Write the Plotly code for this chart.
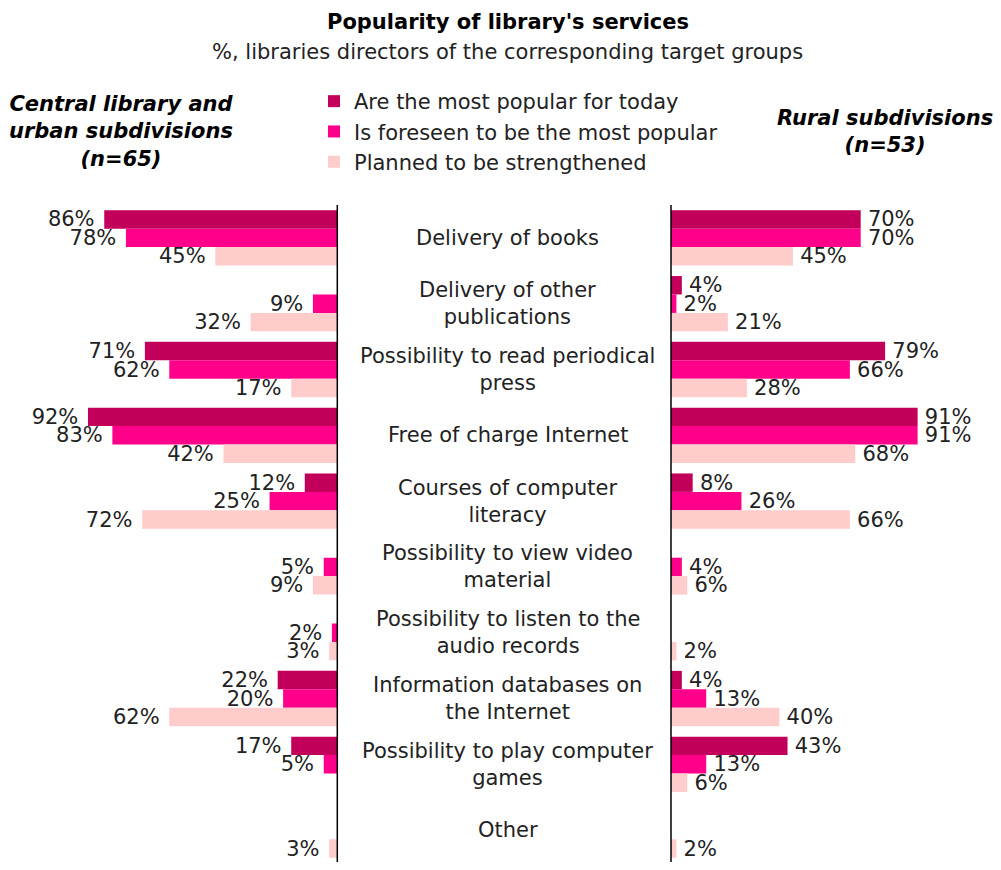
import plotly.graph_objects as go

categories = [
    "Delivery of books",
    "Delivery of other<br>publications",
    "Possibility to read periodical<br>press",
    "Free of charge Internet",
    "Courses of computer<br>literacy",
    "Possibility to view video<br>material",
    "Possibility to listen to the<br>audio records",
    "Information databases on<br>the Internet",
    "Possibility to play computer<br>games",
    "Other",
]
series_names = [
    "Are the most popular for today",
    "Is foreseen to be the most popular",
    "Planned to be strengthened",
]
colors = ["#C2005B", "#FF008A", "#FFCCCC"]

# Central library and urban subdivisions (n=65)
urban_today = [86, None, 71, 92, 12, None, None, 22, 17, None]
urban_foreseen = [78, 9, 62, 83, 25, 5, 2, 20, 5, None]
urban_planned = [45, 32, 17, 42, 72, 9, 3, 62, None, 3]

# Rural subdivisions (n=53)
rural_today = [70, 4, 79, 91, 8, None, None, 4, 43, None]
rural_foreseen = [70, 2, 66, 91, 26, 4, None, 13, 13, None]
rural_planned = [45, 21, 28, 68, 66, 6, 2, 40, 6, 2]

urban = [urban_today, urban_foreseen, urban_planned]
rural = [rural_today, rural_foreseen, rural_planned]

FONT = "DejaVu Sans, Verdana, sans-serif"
FS = 21
ypos = list(range(len(categories)))

fig = go.Figure()
for i in range(3):
    fig.add_trace(go.Bar(
        y=ypos, x=urban[i], orientation="h", name=series_names[i],
        marker=dict(color=colors[i], line=dict(width=0)),
        text=[("%d%%\u00a0" % v) if v is not None else "" for v in urban[i]],
        textposition="outside", constraintext="none", cliponaxis=False,
        outsidetextfont=dict(family=FONT, size=FS, color="#222222"),
        xaxis="x", yaxis="y", offsetgroup=str(i), showlegend=True,
        hoverinfo="skip",
    ))
for i in range(3):
    fig.add_trace(go.Bar(
        y=ypos, x=rural[i], orientation="h", name=series_names[i],
        marker=dict(color=colors[i], line=dict(width=0)),
        text=[("\u2009%d%%" % v) if v is not None else "" for v in rural[i]],
        textposition="outside", constraintext="none", cliponaxis=False,
        outsidetextfont=dict(family=FONT, size=FS, color="#222222"),
        xaxis="x2", yaxis="y2", offsetgroup=str(i), showlegend=False,
        hoverinfo="skip",
    ))

# figure is placed 8px in from the page corner (default body margin)
W, H = 985, 854
left_zero = 329.3
right_zero = 663.0
scale = 2.71
top = 197
plot_h = H - top
row_px = 65.8


def py(pix):
    return (H - pix) / plot_h


annotations = []
for i, c in enumerate(categories):
    annotations.append(dict(
        x=500 / W, xref="paper", y=i, yref="y", text=c, showarrow=False,
        xanchor="center", yanchor="middle",
        font=dict(family=FONT, size=FS, color="#222222"),
    ))

annotations += [
    dict(x=500 / W, y=py(14), xref="paper", yref="paper", showarrow=False,
         text="<b>Popularity of library's services</b>", xanchor="center", yanchor="middle",
         font=dict(family=FONT, size=FS, color="#000000")),
    dict(x=500 / W, y=py(44), xref="paper", yref="paper", showarrow=False,
         text="%, libraries directors of the corresponding target groups",
         xanchor="center", yanchor="middle",
         font=dict(family=FONT, size=FS, color="#222222")),
    dict(x=113 / W, y=py(124), xref="paper", yref="paper", showarrow=False,
         text="<b><i>Central library and<br>urban subdivisions<br>(n=65)</i></b>",
         xanchor="center", yanchor="middle", align="center",
         font=dict(family=FONT, size=FS, color="#000000")),
    dict(x=877 / W, y=py(124), xref="paper", yref="paper", showarrow=False,
         text="<b><i>Rural subdivisions<br>(n=53)</i></b>",
         xanchor="center", yanchor="middle", align="center",
         font=dict(family=FONT, size=FS, color="#000000")),
]

yr = [-0.5 + plot_h / row_px, -0.5]
fig.update_layout(
    width=W, height=H,
    margin=dict(l=0, r=0, t=top, b=0),
    plot_bgcolor="white", paper_bgcolor="white",
    barmode="group", bargap=0.16, bargroupgap=0,
    font=dict(family=FONT, size=FS, color="#222222"),
    xaxis=dict(domain=[0, left_zero / W], range=[left_zero / scale, 0],
               visible=False, fixedrange=True),
    xaxis2=dict(domain=[right_zero / W, 1], range=[0, (W - right_zero) / scale],
                visible=False, fixedrange=True),
    yaxis=dict(range=yr, visible=False, anchor="x"),
    yaxis2=dict(range=yr, visible=False, anchor="x2", matches="y"),
    shapes=[
        dict(type="line", xref="x domain", yref="paper", x0=1, x1=1, y0=0, y1=1,
             line=dict(color="black", width=1.5)),
        dict(type="line", xref="x2 domain", yref="paper", x0=0, x1=0, y0=0, y1=1,
             line=dict(color="black", width=1.5)),
    ],
    legend=dict(x=306 / W, y=py(73), xanchor="left", yanchor="top",
                bgcolor="rgba(0,0,0,0)", traceorder="normal",
                font=dict(family=FONT, size=FS, color="#222222"),
                itemwidth=30, tracegroupgap=0),
    annotations=annotations,
    showlegend=True,
)

fig.write_html("out.html")
